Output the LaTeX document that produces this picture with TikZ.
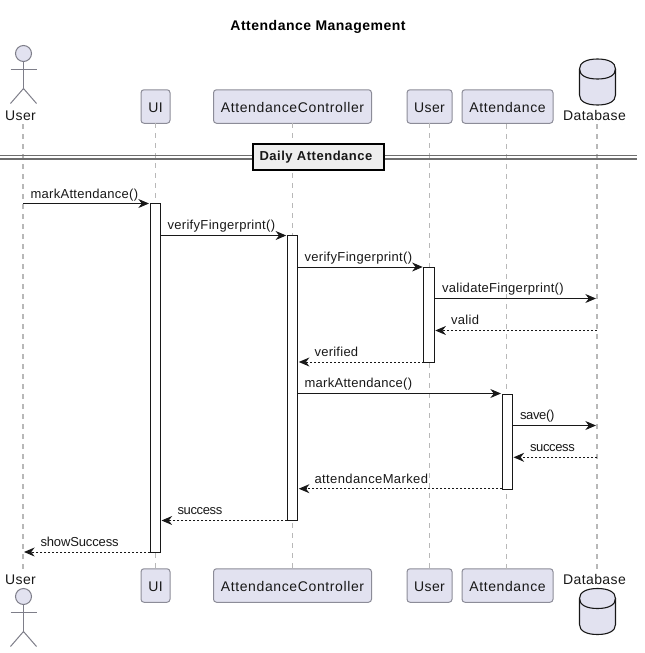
\documentclass[tikz,border=0pt]{standalone}
\usepackage{fontspec}
\setmainfont{Liberation Sans}
\usetikzlibrary{arrows.meta}
\newdimen\pxu \pxu=0.75pt
\newbox\fitbox
\makeatletter
\newcommand\fitw[3]{\setbox\fitbox\hbox{#3}\pgfmathsetmacro\lsval{100*(#1*0.75-\the\wd\fitbox)/(#2*\f@size)}\edef\lsdo{\noexpand\addfontfeature{LetterSpace=\lsval}}{\lsdo #3}}
\makeatother
\definecolor{pfill}{HTML}{E2E2F0}
\definecolor{pdark}{HTML}{181818}
\definecolor{pline}{HTML}{8C8C98}
\definecolor{plife}{HTML}{B8B8B8}
\definecolor{pdiv}{HTML}{6E6E6E}
\definecolor{pband}{HTML}{EEEEEE}
\tikzset{
  x=0.75pt,y=-0.75pt,
  headbox/.style={draw=pline,fill=pfill,line width=1\pxu,rounded corners=3\pxu,inner sep=0pt,outer sep=0pt,minimum height=33.5\pxu,font=\fontsize{10.5}{12}\selectfont,text=pdark,text depth=0pt,text height=9pt},
  headtext/.style={inner sep=0pt,outer sep=0pt,anchor=base,font=\fontsize{10.5}{12}\selectfont,text=pdark},
  actorline/.style={draw=pline!90!black,line width=1\pxu},
  dbline/.style={draw=pdark,fill=pfill,line width=1.1\pxu},
  lifeline/.style={draw=plife,line width=1.5\pxu,dash pattern=on 5\pxu off 5\pxu},
  actbox/.style={draw=pdark,fill=white,line width=1\pxu,inner sep=0pt,outer sep=0pt,minimum width=10.5\pxu},
  divline/.style={draw=pdiv,line width=1.6\pxu},
  divbox/.style={draw=black,fill=pband,line width=2\pxu,inner sep=0pt,outer sep=0pt,minimum width=131.5\pxu,minimum height=26\pxu,font=\fontsize{9.75}{12}\selectfont\bfseries,text=pdark},
  msgtext/.style={inner sep=0pt,outer sep=0pt,anchor=base west,font=\fontsize{9.75}{12}\selectfont,text=pdark},
  tip/.style={-{Stealth[length=8pt,width=6.75pt,inset=2.6pt]}},
  syncmsg/.style={tip,draw=pdark,line width=1\pxu,shorten >=1\pxu},
  retmsg/.style={tip,draw=pdark,line width=1\pxu,dash pattern=on 2\pxu off 2\pxu,shorten >=1\pxu},
}
\newcommand\actorfig[2]{%
  \draw[actorline,fill=pfill] (#1,#2) circle[radius=8];
  \draw[actorline] (#1,#2+8) -- (#1,#2+35);
  \draw[actorline] (#1-13,#2+16) -- (#1+13,#2+16);
  \draw[actorline] (#1-13,#2+50) -- (#1,#2+35) -- (#1+13,#2+50);
}
\newcommand\dbfig[2]{%
  \draw[dbline] (#1-18,#2+10) .. controls (#1-18,#2+3.5) and (#1-11,#2) .. (#1,#2)
    .. controls (#1+11,#2) and (#1+18,#2+3.5) .. (#1+18,#2+10)
    -- (#1+18,#2+36) .. controls (#1+18,#2+42.5) and (#1+11,#2+46) .. (#1,#2+46)
    .. controls (#1-11,#2+46) and (#1-18,#2+42.5) .. (#1-18,#2+36) -- cycle;
  \draw[draw=pdark,line width=1.1\pxu] (#1-18,#2+10) .. controls (#1-18,#2+16.5) and (#1-11,#2+20) .. (#1,#2+20)
    .. controls (#1+11,#2+20) and (#1+18,#2+16.5) .. (#1+18,#2+10);
}
\begin{document}
\begin{tikzpicture}
\useasboundingbox (0,0) rectangle (644,653);
% title
\node[inner sep=0pt,anchor=base,font=\fontsize{10.5}{12}\selectfont\bfseries,text=black] (title) at (318,30) {\fitw{176}{21}{Attendance Management}};
% lifeline ends
\coordinate (lUserT) at (23,124); \coordinate (lUserB) at (23,569);
\coordinate (lDbT) at (597,124); \coordinate (lDbB) at (597,569);
\coordinate (lAtT) at (506.5,124); \coordinate (lAtB) at (506.5,569);
% heads (top)
\node[headbox,minimum width=29\pxu] (uiT) at (155.5,106.5) {\fitw{15}{2}{UI}};
\node[headbox,minimum width=158\pxu] (acT) at (292.5,106.5) {\fitw{144}{20}{AttendanceController}};
\node[headbox,minimum width=45\pxu] (usT) at (429.5,106.5) {\fitw{31}{4}{User}};
\node[headbox,minimum width=91\pxu] (atT) at (507.5,106.5) {\fitw{77}{10}{Attendance}};
% heads (bottom)
\node[headbox,minimum width=29\pxu] (uiB) at (155.5,585.5) {\fitw{15}{2}{UI}};
\node[headbox,minimum width=158\pxu] (acB) at (292.5,585.5) {\fitw{144}{20}{AttendanceController}};
\node[headbox,minimum width=45\pxu] (usB) at (429.5,585.5) {\fitw{31}{4}{User}};
\node[headbox,minimum width=91\pxu] (atB) at (507.5,585.5) {\fitw{77}{10}{Attendance}};
% lifelines
\draw[lifeline] (lUserT) -- (lUserB);
\draw[lifeline] (uiT.south) -- (uiB.north);
\draw[lifeline] (acT.south) -- (acB.north);
\draw[lifeline] (usT.south) -- (usB.north);
\draw[lifeline] (lAtT) -- (lAtB);
\draw[lifeline] (lDbT) -- (lDbB);
% actors and databases
\actorfig{23.5}{53.5}
\node[headtext] (userT) at (20.5,120) {\fitw{31}{4}{User}};
\actorfig{23.5}{596.5}
\node[headtext] (userB) at (20.5,584) {\fitw{31}{4}{User}};
\dbfig{597.5}{59}
\node[headtext] (dbT) at (594.5,120) {\fitw{63}{8}{Database}};
\dbfig{597.5}{588.5}
\node[headtext] (dbB) at (594.5,584) {\fitw{63}{8}{Database}};
% divider
\coordinate (divL) at (0,155.5); \coordinate (divR) at (637,155.5);
\coordinate (divL2) at (0,158.8); \coordinate (divR2) at (637,158.8);
\draw[divline] (divL) -- (divR);
\draw[divline] (divL2) -- (divR2);
\node[divbox] (div) at (318.5,157) {\fitw{114}{16}{Daily Attendance}\kern3.75pt};
% activations
\node[actbox,minimum height=348.5\pxu] (aUI) at (155.25,377.75) {};
\node[actbox,minimum height=285\pxu] (aAC) at (292.5,378) {};
\node[actbox,minimum height=95\pxu] (aUS) at (429,314.5) {};
\node[actbox,minimum height=95\pxu] (aAT) at (507.25,441.5) {};
% message rows
\coordinate (m1) at (0,203.5); \coordinate (m2) at (0,235.5); \coordinate (m3) at (0,267);
\coordinate (m4) at (0,298.5); \coordinate (m5) at (0,330.5); \coordinate (m6) at (0,362);
\coordinate (m7) at (0,393.5); \coordinate (m8) at (0,425.5); \coordinate (m9) at (0,457.3);
\coordinate (m10) at (0,488.7); \coordinate (m11) at (0,520.5); \coordinate (m12) at (0,552);
\draw[syncmsg] (lUserT |- m1) -- (aUI.west |- m1);
\draw[syncmsg] (aUI.east |- m2) -- (aAC.west |- m2);
\draw[syncmsg] (aAC.east |- m3) -- (aUS.west |- m3);
\draw[syncmsg] (aUS.east |- m4) -- (lDbT |- m4);
\draw[retmsg] (lDbT |- m5) -- (aUS.east |- m5);
\draw[retmsg] (aUS.west |- m6) -- (aAC.east |- m6);
\draw[syncmsg] (aAC.east |- m7) -- (aAT.west |- m7);
\draw[syncmsg] (aAT.east |- m8) -- (lDbT |- m8);
\draw[retmsg] (lDbT |- m9) -- (aAT.east |- m9);
\draw[retmsg] (aAT.west |- m10) -- (aAC.east |- m10);
\draw[retmsg] (aAC.west |- m11) -- (aUI.east |- m11);
\draw[retmsg] (aUI.west |- m12) -- (lUserT |- m12);
% labels
\node[msgtext] (t1) at (30.5,198) {\fitw{108}{16}{markAttendance()}};
\node[msgtext] (t2) at (167.5,229.5) {\fitw{108}{19}{verifyFingerprint()}};
\node[msgtext] (t3) at (304.5,261) {\fitw{108}{19}{verifyFingerprint()}};
\node[msgtext] (t4) at (442,292.5) {\fitw{122}{21}{validateFingerprint()}};
\node[msgtext] (t5) at (451,324.5) {\fitw{28.5}{5}{valid}};
\node[msgtext] (t6) at (314.5,356) {\fitw{44}{8}{verified}};
\node[msgtext] (t7) at (304.5,387.5) {\fitw{108}{16}{markAttendance()}};
\node[msgtext] (t8) at (520,419.5) {\fitw{34}{6}{save()}};
\node[msgtext] (t9) at (530,451.5) {\fitw{44.5}{7}{success}};
\node[msgtext] (t10) at (314.5,483) {\fitw{114}{16}{attendanceMarked}};
\node[msgtext] (t11) at (177.5,514.5) {\fitw{44.5}{7}{success}};
\node[msgtext] (t12) at (40.5,546) {\fitw{78}{11}{showSuccess}};
\end{tikzpicture}
\end{document}
